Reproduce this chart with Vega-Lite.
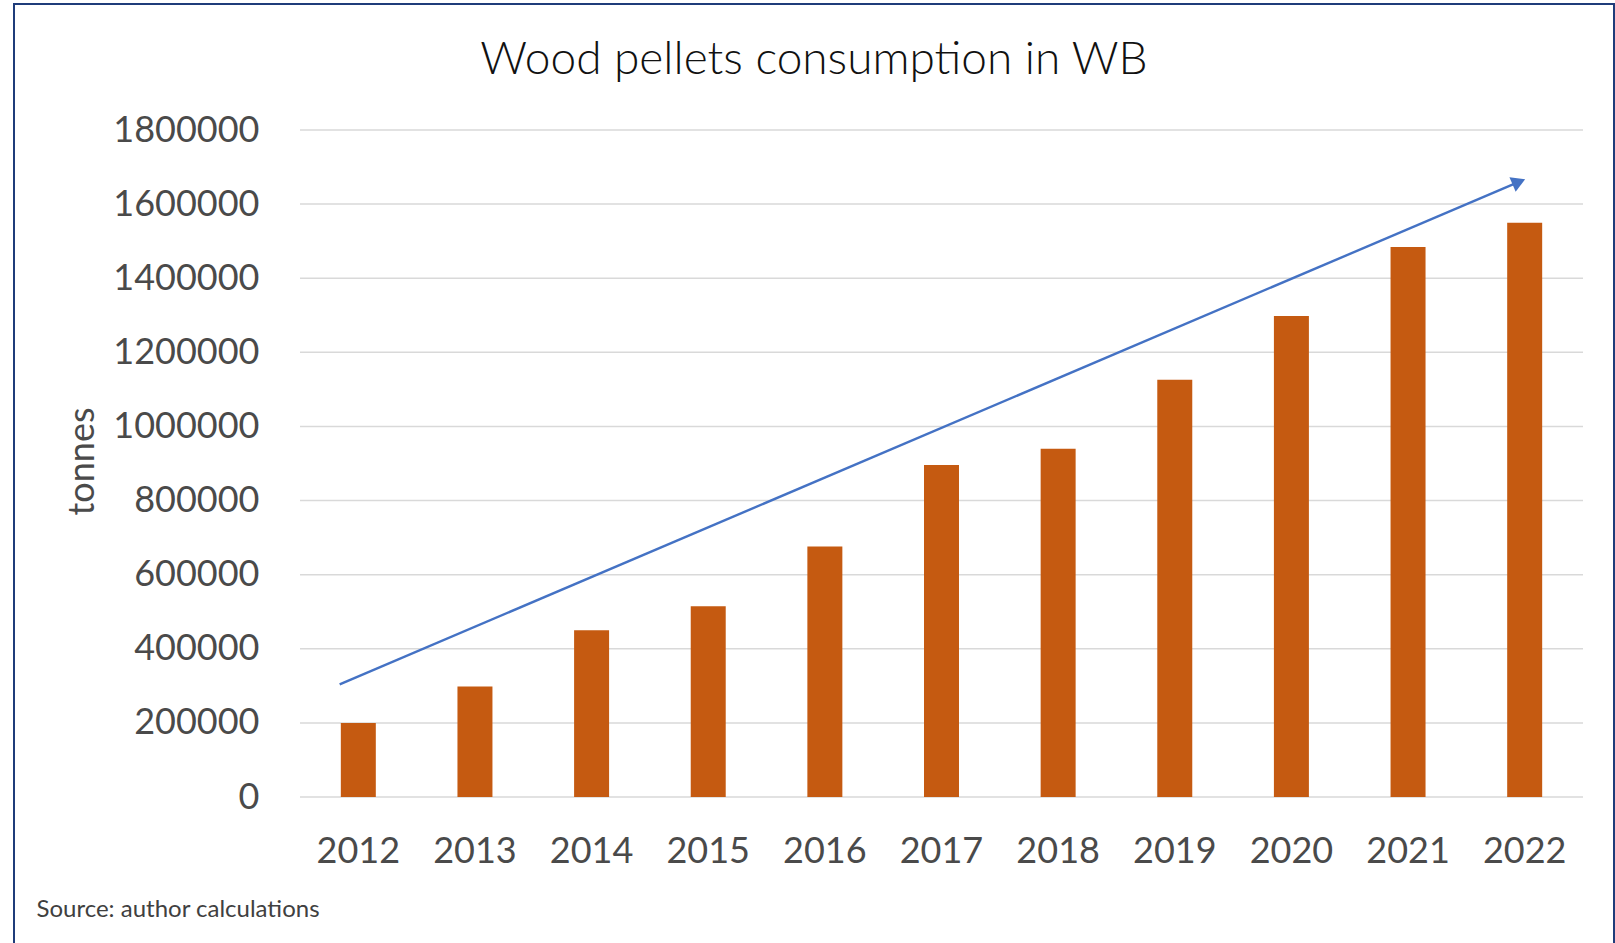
{
  "$schema": "https://vega.github.io/schema/vega-lite/v6.json",
  "width": 1600,
  "height": 941,
  "autosize": {"type": "none"},
  "padding": {"left": 14, "top": 4, "right": 1, "bottom": -2},
  "background": "white",
  "title": {
    "text": "Wood pellets consumption in WB",
    "font": "Lato",
    "fontSize": 46,
    "fontWeight": 300,
    "color": "#111111",
    "anchor": "middle",
    "frame": "group",
    "baseline": "alphabetic",
    "offset": -116
  },
  "config": {
    "view": {"stroke": "#1F3C7A", "strokeWidth": 2},
    "font": "Lato"
  },
  "datasets": {
    "pellets": [
      {"year": "2012", "tonnes": 200000},
      {"year": "2013", "tonnes": 298000},
      {"year": "2014", "tonnes": 450000},
      {"year": "2015", "tonnes": 515000},
      {"year": "2016", "tonnes": 676000},
      {"year": "2017", "tonnes": 896000},
      {"year": "2018", "tonnes": 940000},
      {"year": "2019", "tonnes": 1126000},
      {"year": "2020", "tonnes": 1298000},
      {"year": "2021", "tonnes": 1484000},
      {"year": "2022", "tonnes": 1550000}
    ],
    "trend": [
      {"u": 0.34, "tonnes": 304000},
      {"u": 10.45, "tonnes": 1660000}
    ],
    "grid": [
      {"tonnes": 0}, {"tonnes": 200000}, {"tonnes": 400000}, {"tonnes": 600000}, {"tonnes": 800000},
      {"tonnes": 1000000}, {"tonnes": 1200000}, {"tonnes": 1400000}, {"tonnes": 1600000}, {"tonnes": 1800000}
    ]
  },
  "layer": [
    {
      "data": {"name": "grid"},
      "mark": {"type": "rule", "color": "#D9D9D9", "strokeWidth": 1.5},
      "encoding": {
        "x": {"datum": 0, "type": "quantitative", "scale": {"domain": [0, 11], "range": [286, 1569], "nice": false, "zero": false}, "axis": null},
        "x2": {"datum": 11},
        "y": {
          "field": "tonnes",
          "type": "quantitative",
          "scale": {"domain": [0, 1800000], "range": [793, 126], "nice": false},
          "axis": {
            "title": "tonnes",
            "offset": -286,
            "domain": false,
            "ticks": false,
            "grid": false,
            "values": [0, 200000, 400000, 600000, 800000, 1000000, 1200000, 1400000, 1600000, 1800000],
            "format": "d",
            "labelPadding": 41,
            "labelFont": "Lato",
            "labelFontSize": 36,
            "labelColor": "#4a4a4a",
            "titleFont": "Lato",
            "titleFontSize": 36,
            "titleFontWeight": "normal",
            "titleColor": "#4a4a4a",
            "titleAngle": -90,
            "titleX": -207,
            "titleY": 457,
            "titleAlign": "center",
            "titleBaseline": "alphabetic"
          }
        }
      }
    },
    {
      "data": {"name": "pellets"},
      "mark": {"type": "bar", "color": "#C55A11"},
      "encoding": {
        "x": {
          "field": "year",
          "type": "ordinal",
          "scale": {"range": [286, 1569], "paddingInner": 0.7, "paddingOuter": 0.35},
          "axis": {
            "title": "Source: author calculations",
            "offset": -148,
            "domain": false,
            "ticks": false,
            "grid": false,
            "labelAngle": 0,
            "labelPadding": 37,
            "labelFont": "Lato",
            "labelFontSize": 36,
            "labelColor": "#4a4a4a",
            "titleFont": "Lato",
            "titleFontSize": 24,
            "titleFontWeight": "normal",
            "titleColor": "#404040",
            "titleX": 22,
            "titleY": 119,
            "titleAlign": "left",
            "titleAnchor": "start",
            "titleBaseline": "alphabetic"
          }
        },
        "y": {
          "field": "tonnes",
          "type": "quantitative",
          "axis": {
            "title": "tonnes",
            "offset": -286,
            "domain": false,
            "ticks": false,
            "grid": false,
            "values": [0, 200000, 400000, 600000, 800000, 1000000, 1200000, 1400000, 1600000, 1800000],
            "format": "d",
            "labelPadding": 41,
            "labelFont": "Lato",
            "labelFontSize": 36,
            "labelColor": "#4a4a4a",
            "titleFont": "Lato",
            "titleFontSize": 36,
            "titleFontWeight": "normal",
            "titleColor": "#4a4a4a",
            "titleAngle": -90,
            "titleX": -207,
            "titleY": 457,
            "titleAlign": "center",
            "titleBaseline": "alphabetic"
          }
        }
      }
    },
    {
      "data": {"name": "trend"},
      "mark": {"type": "line", "color": "#4472C4", "strokeWidth": 2.4},
      "encoding": {
        "x": {"field": "u", "type": "quantitative", "scale": {"domain": [0, 11], "range": [286, 1569], "nice": false, "zero": false}, "axis": null},
        "y": {"field": "tonnes", "type": "quantitative"}
      }
    },
    {
      "data": {"name": "trend"},
      "transform": [{"filter": "datum.u > 10"}],
      "mark": {"type": "point", "shape": "triangle-right", "filled": true, "color": "#4472C4", "size": 250, "angle": 336.9, "opacity": 1},
      "encoding": {
        "x": {"field": "u", "type": "quantitative", "scale": {"domain": [0, 11], "range": [286, 1569], "nice": false, "zero": false}, "axis": null},
        "y": {"field": "tonnes", "type": "quantitative"}
      }
    }
  ],
  "resolve": {"scale": {"x": "independent"}, "axis": {"x": "independent"}}
}
